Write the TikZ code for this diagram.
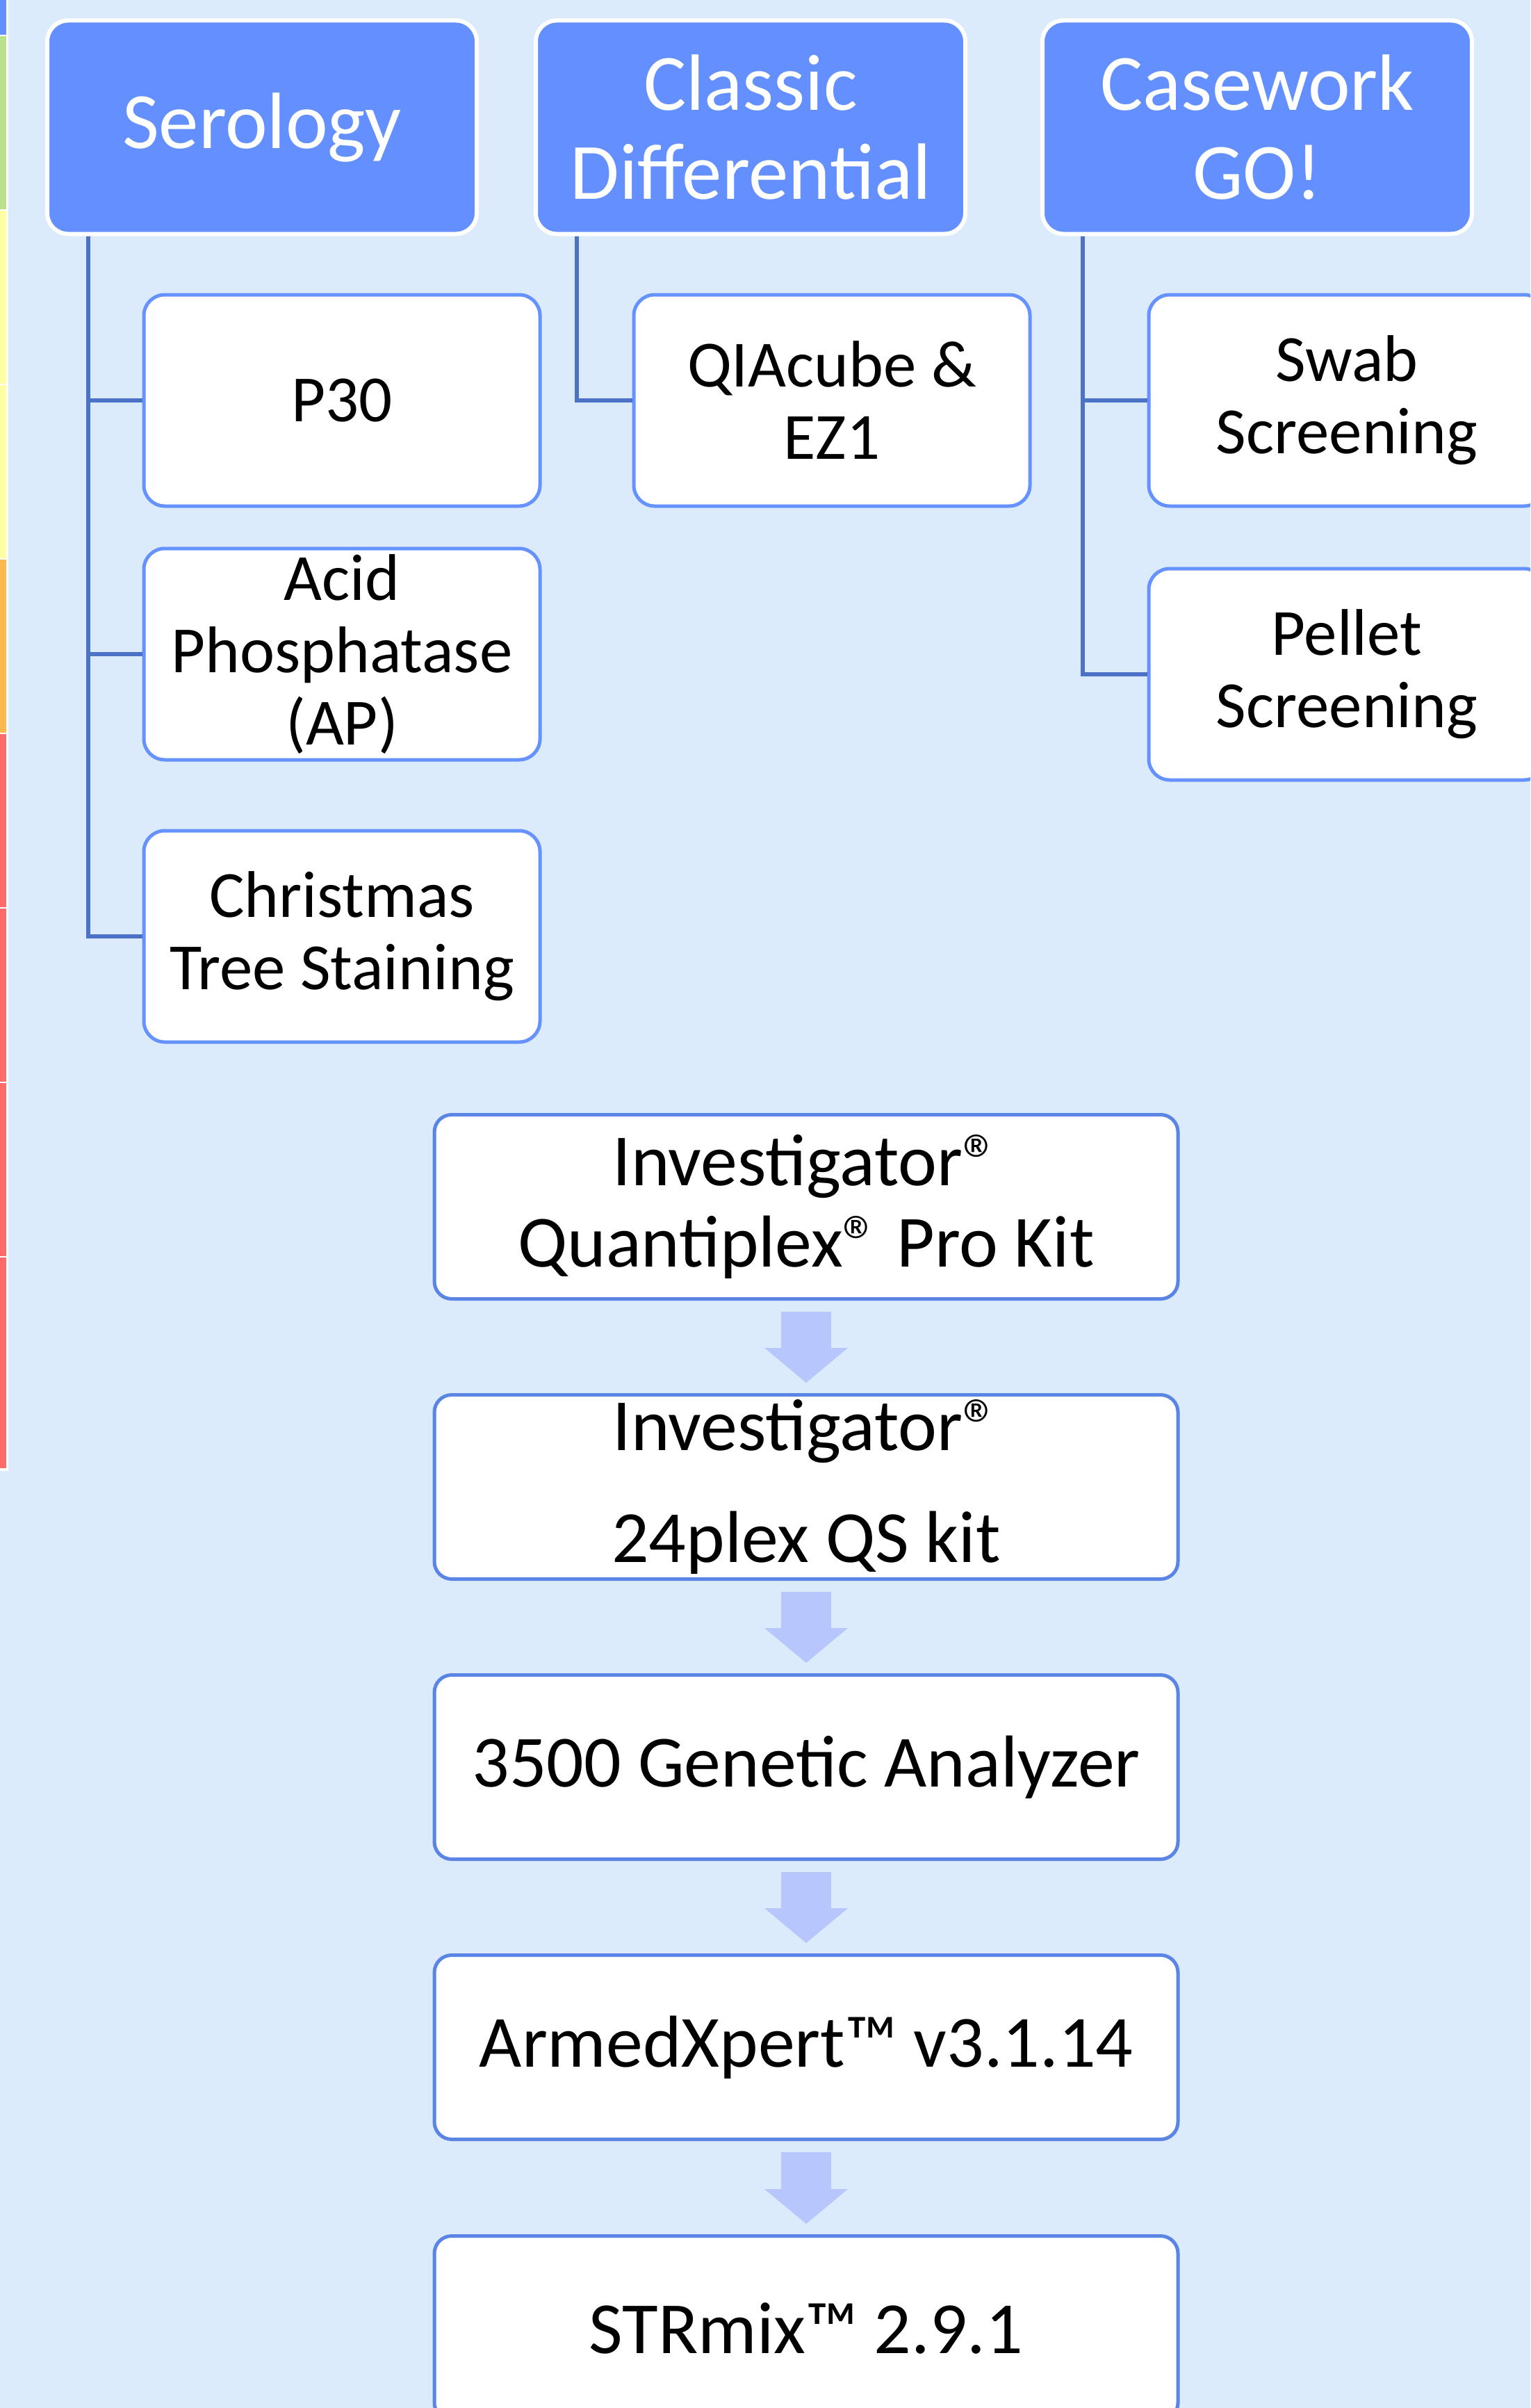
\documentclass[tikz,border=0pt]{standalone}
\usepackage{fontspec}
\setmainfont{Carlito}
\usetikzlibrary{arrows.meta}
\definecolor{bgblue}{RGB}{219,235,252}
\definecolor{hdblue}{RGB}{100,144,255}
\definecolor{bxblue}{RGB}{102,146,255}
\definecolor{lnblue}{RGB}{76,114,200}
\definecolor{flblue}{RGB}{91,133,229}
\definecolor{arblue}{RGB}{183,198,252}
\definecolor{stgreen}{RGB}{185,224,138}
\definecolor{styellow}{RGB}{255,255,163}
\definecolor{storange}{RGB}{255,183,79}
\definecolor{stred}{RGB}{255,107,107}
\tikzset{hd/.style={draw=white, line width=0.06cm, fill=hdblue, rounded corners=0.3cm, minimum width=6.18cm, minimum height=3.07cm, inner sep=0pt, align=center, text=white, font=\fontsize{32.7}{36.4}\selectfont}}
\tikzset{sub/.style={draw=bxblue, line width=0.05cm, fill=white, rounded corners=0.3cm, minimum width=5.70cm, minimum height=3.04cm, inner sep=0pt, align=center, font=\fontsize{27}{29.6}\selectfont}}
\tikzset{flw/.style={draw=flblue, line width=0.05cm, fill=white, rounded corners=0.25cm, minimum width=10.70cm, minimum height=2.65cm, inner sep=0pt, align=center, font=\fontsize{30.1}{33.3}\selectfont}}
\tikzset{tr/.style={draw=lnblue, line width=0.055cm}}
\tikzset{ar/.style={draw=arblue, line width=0.72cm, arrows={Triangle[width=1.2cm,length=0.5cm,line width=0pt]-}, shorten <=0.15cm, shorten >=0.16cm}}
\begin{document}
\begin{tikzpicture}
  \clip (0,0) rectangle (22.02,-34.64);
  \fill[bgblue] (0,0) rectangle (22.02,-34.64);
  \fill[white] (0,0) rectangle (0.115,-21.16);
  \fill[hdblue] (0,0) rectangle (0.09,-0.50);
  \fill[stgreen] (0,-0.52) rectangle (0.09,-3.01);
  \fill[styellow] (0,-3.03) rectangle (0.09,-5.52);
  \fill[styellow] (0,-5.54) rectangle (0.09,-8.03);
  \fill[storange] (0,-8.05) rectangle (0.09,-10.54);
  \fill[stred] (0,-10.56) rectangle (0.09,-13.05);
  \fill[stred] (0,-13.07) rectangle (0.09,-15.56);
  \fill[stred] (0,-15.58) rectangle (0.09,-18.07);
  \fill[stred] (0,-18.09) rectangle (0.09,-21.12);

  \node[hd] (SERO) at (3.77,-1.83) {Serology};
  \node[hd] (DIFF) at (10.80,-1.83) {Classic\\Differential};
  \node[hd] (CASE) at (18.09,-1.83) {Casework\\GO!};

  \node[sub] (P30) at (4.92,-5.76) {P30};
  \node[sub] (AP) at (4.92,-9.41) {Acid\\Phosphatase\\(AP)};
  \node[sub] (XMAS) at (4.92,-13.47) {Christmas\\Tree Staining};
  \node[sub] (QIA) at (11.97,-5.76) {QIAcube \&\\EZ1};
  \node[sub] (SWAB) at (19.38,-5.76) {Swab\\Screening};
  \node[sub] (PELL) at (19.38,-9.70) {Pellet\\Screening};

  \draw[tr] ([xshift=0.62cm]SERO.south west) |- (P30.west);
  \draw[tr] ([xshift=0.62cm]SERO.south west) |- (AP.west);
  \draw[tr] ([xshift=0.62cm]SERO.south west) |- (XMAS.west);
  \draw[tr] ([xshift=0.62cm]DIFF.south west) |- (QIA.west);
  \draw[tr] ([xshift=0.61cm]CASE.south west) |- (SWAB.west);
  \draw[tr] ([xshift=0.61cm]CASE.south west) |- (PELL.west);

  \node[flw] (QPRO) at (11.60,-17.36) {Investigator®\\Quantiplex® Pro Kit};
  \node[flw] (QS24) at (11.60,-21.39) {Investigator®\\[0.44cm]24plex QS kit}
    edge [ar] (QPRO);
  \node[flw] (GA35) at (11.60,-25.42) {3500 Genetic Analyzer}
    edge [ar] (QS24);
  \node[flw] (AXP) at (11.60,-29.45) {ArmedXpert™ v3.1.14}
    edge [ar] (GA35);
  \node[flw] (STR) at (11.60,-33.49) {STRmix™ 2.9.1}
    edge [ar] (AXP);
\end{tikzpicture}
\end{document}
